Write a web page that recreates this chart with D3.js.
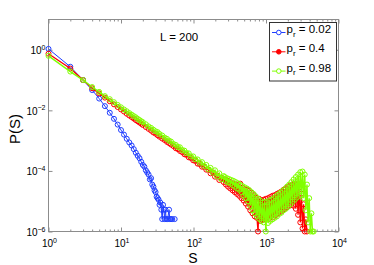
<!DOCTYPE html>
<html>
<head>
<meta charset="utf-8">
<script src="https://cdn.jsdelivr.net/npm/d3@7"></script>
<style>
  body { margin: 0; background: #fff; }
  svg { display: block; font-family: "Liberation Sans", Arial, sans-serif; }
</style>
</head>
<body>
<svg id="chart" width="374" height="265"></svg>
<script>
// cluster sizes S and probabilities P(S)
const sizesBlue = [1,2,3,4,5,6,7,8,9,10,11,12,13,14,15,16,17,18,19,20,21,22,23,24,25,26,27,28,29,30,
  31,32,33,34,35,36,37,38,39,40,41,42,44,46,47,49,51,55];
const probBlue = [1.07,0.275,0.1,4.68e-2,2.45e-2,1.38e-2,8.32e-3,5.25e-3,3.39e-3,2.24e-3,
  1.58e-3,1.15e-3,8.71e-4,6.92e-4,5.25e-4,3.98e-4,3.16e-4,2.63e-4,2.00e-4,1.58e-4,
  1.38e-4,1.05e-4,8.91e-5,7.59e-5,5.25e-5,5.75e-5,3.55e-5,3.02e-5,2.29e-5,2.00e-5,
  1.41e-5,1.26e-5,1.12e-5,7.59e-6,8.91e-6,5.25e-6,2.57e-6,7.59e-6,5.25e-6,2.57e-6,
  5.25e-6,2.57e-6,2.57e-6,5.25e-6,2.57e-6,2.57e-6,2.57e-6,2.57e-6];

// S grid shared by p_r = 0.4 and p_r = 0.98
const sizes = [1,2,3,4,5,6,7,8,9,10,11,12,13,14,15,16,17,18,19,20,
  22,24,26,28,30,32,34,37,40,43,46,49,53,57,61,65,70,75,80,86,92,99,106,114,122,131,140,150,161,172,185,198,212,227,243,261,
  270,280,290,300,311,322,334,346,358,371,384,398,412,427,442,458,474,491,509,527,546,566,586,607,629,651,675,699,724,750,
  777,805,834,864,895,927,960,995,1030,1067,1106,1145,1187,1229,1273,1319,1367,1416,1466,1519,1574,1630,1689,1750,1813,1878,
  1945,2015,2088,2163,2240,2321,2404,2491,2580,2673,2769,2869,2972,3079,3190,3305,3423,3546,3674,3806,3943,4085,4232,4384,4542];

const probRed = [0.741,0.240,0.100,5.37e-2,3.63e-2,2.63e-2,2.00e-2,1.58e-2,1.29e-2,1.07e-2,
  9.12e-3,7.76e-3,6.76e-3,6.03e-3,5.37e-3,4.79e-3,4.37e-3,3.98e-3,3.63e-3,3.31e-3,
  2.82e-3,2.45e-3,2.14e-3,1.86e-3,1.70e-3,1.51e-3,1.35e-3,1.17e-3,1.05e-3,9.12e-4,
  8.32e-4,7.41e-4,6.61e-4,5.62e-4,5.25e-4,4.57e-4,4.17e-4,3.55e-4,3.39e-4,2.82e-4,
  2.69e-4,2.24e-4,2.14e-4,1.74e-4,1.70e-4,1.38e-4,1.38e-4,1.10e-4,1.10e-4,8.32e-5,
  8.91e-5,6.46e-5,7.08e-5,5.01e-5,5.89e-5,4.27e-5,
  5.25e-5,3.55e-5,4.79e-5,3.02e-5,4.37e-5,2.63e-5,3.98e-5,2.29e-5,3.72e-5,2.00e-5,
  3.55e-5,1.74e-5,3.16e-5,1.51e-5,3.80e-5,1.26e-5,2.82e-5,1.05e-5,2.51e-5,8.32e-6,
  2.40e-5,6.61e-6,2.19e-5,5.01e-6,1.91e-5,3.98e-6,1.58e-5,3.16e-6,1.32e-5,2.82e-6,
  1.00e-6,1.20e-5,2.24e-6,1.05e-5,2.40e-6,1.12e-5,2.51e-6,1.20e-5,2.82e-6,1.26e-5,
  2.63e-6,1.38e-5,3.16e-6,1.51e-5,3.02e-6,1.58e-5,3.55e-6,1.74e-5,3.98e-6,1.91e-5,
  4.47e-6,2.09e-5,5.01e-6,2.40e-5,5.62e-6,2.63e-5,6.31e-6,3.02e-5,7.08e-6,3.31e-5,
  7.59e-6,3.63e-5,7.08e-6,3.80e-5,5.62e-6,3.55e-5,3.55e-6,2.82e-5,2.00e-6,1.78e-5,
  1.26e-6,7.94e-6,1.00e-6,2.51e-6,1.00e-6];

const probGreen = [0.631,0.191,0.1,5.89e-2,4.07e-2,2.95e-2,2.34e-2,1.86e-2,1.51e-2,1.26e-2,
  1.07e-2,9.33e-3,8.13e-3,7.24e-3,6.46e-3,5.89e-3,5.25e-3,4.79e-3,4.37e-3,4.07e-3,
  3.47e-3,2.95e-3,2.63e-3,2.29e-3,2.04e-3,1.91e-3,1.66e-3,1.48e-3,1.26e-3,1.15e-3,
  1.00e-3,9.33e-4,7.76e-4,7.24e-4,6.17e-4,6.03e-4,4.90e-4,4.68e-4,3.89e-4,3.80e-4,
  3.02e-4,3.02e-4,2.40e-4,2.40e-4,1.86e-4,1.95e-4,1.45e-4,1.58e-4,1.12e-4,1.26e-4,
  8.71e-5,1.05e-4,6.61e-5,8.32e-5,5.25e-5,6.76e-5,
  6.31e-5,4.68e-5,5.75e-5,4.17e-5,5.37e-5,3.80e-5,5.01e-5,3.39e-5,4.68e-5,3.02e-5,
  4.27e-5,2.63e-5,3.89e-5,2.40e-5,3.47e-5,2.00e-5,3.16e-5,1.51e-5,2.88e-5,1.26e-5,
  2.63e-5,1.00e-5,2.34e-5,7.08e-6,2.00e-5,5.01e-6,1.74e-5,3.98e-6,1.45e-5,3.16e-6,
  1.20e-5,2.63e-6,1.05e-5,2.24e-6,8.91e-6,2.00e-6,9.55e-6,1.00e-6,9.12e-6,1.91e-6,
  1.05e-5,2.24e-6,1.12e-5,2.51e-6,1.26e-5,2.82e-6,1.45e-5,3.16e-6,1.66e-5,3.80e-6,
  1.91e-5,4.17e-6,2.19e-5,5.01e-6,2.51e-5,5.62e-6,3.02e-5,6.61e-6,3.55e-5,7.94e-6,
  4.27e-5,9.55e-6,5.25e-5,1.12e-5,6.31e-5,1.32e-5,7.59e-5,1.51e-5,9.12e-5,1.58e-5,
  9.55e-5,1.26e-5,7.59e-5,5.01e-6,3.55e-5,2.00e-6,1.26e-5,1.00e-6,3.98e-6,1.00e-6,
  1.00e-6];

const legendLabels = ["0.02", "0.4", "0.98"];
const xTickExp = [0, 1, 2, 3, 4];
const yTickExp = [-6, -4, -2, 0];

const svg = d3.select("#chart");
const margin = { top: 19.5, left: 48.5 };
const width = 290;
const height = 212;
const axisColor = "#8c8c8c";

const x = d3.scaleLog().domain([1, 1e4]).range([0, width]);
const y = d3.scaleLog().domain([1e-6, 10]).range([height, 0]);

const g = svg.append("g")
  .attr("transform", `translate(${margin.left},${margin.top})`);

// ticks pointing inward on all four sides, matlab style
const xMajor = xTickExp.map(e => 10 ** e);
const xMinor = x.ticks().filter(v => !xMajor.includes(v));
const yMajor = yTickExp.map(e => 10 ** e);

function tickAxis(axis, transform) {
  const a = g.append("g").attr("transform", transform).call(axis);
  a.select(".domain").remove();
  a.selectAll("text").remove();
  a.selectAll("line").attr("stroke", axisColor);
}
tickAxis(d3.axisBottom(x).tickValues(xMajor).tickSize(-4), `translate(0,${height})`);
tickAxis(d3.axisBottom(x).tickValues(xMinor).tickSize(-2), `translate(0,${height})`);
tickAxis(d3.axisTop(x).tickValues(xMajor).tickSize(-4), "translate(0,0)");
tickAxis(d3.axisTop(x).tickValues(xMinor).tickSize(-2), "translate(0,0)");
tickAxis(d3.axisLeft(y).tickValues(yMajor).tickSize(-4), "translate(0,0)");
tickAxis(d3.axisRight(y).tickValues(yMajor).tickSize(-4), `translate(${width},0)`);

g.append("rect")
  .attr("width", width)
  .attr("height", height)
  .attr("fill", "none")
  .attr("stroke", axisColor);

// tick labels 10^k
xTickExp.forEach(e => {
  const t = g.append("text")
    .attr("x", x(10 ** e) + 1)
    .attr("y", height + 15.5)
    .attr("text-anchor", "middle")
    .attr("font-size", "10px");
  t.append("tspan").text("10");
  t.append("tspan").attr("dy", -4.5).attr("font-size", "7px").text(e);
});
yTickExp.forEach(e => {
  const t = g.append("text")
    .attr("x", -3)
    .attr("y", y(10 ** e) + 4.5)
    .attr("text-anchor", "end")
    .attr("font-size", "10px");
  t.append("tspan").text("10");
  t.append("tspan").attr("dy", -4.5).attr("font-size", "7px").text(e < 0 ? "\u2212" + (-e) : e);
});

svg.append("text")
  .attr("x", 193)
  .attr("y", 263)
  .attr("text-anchor", "middle")
  .attr("font-size", "14px")
  .text("S");

svg.append("text")
  .attr("transform", "translate(20,129) rotate(-90)")
  .attr("text-anchor", "middle")
  .attr("font-size", "15px")
  .text("P(S)");

svg.append("text")
  .attr("x", 160)
  .attr("y", 40.7)
  .attr("font-size", "11.5px")
  .text("L = 200");

const series = [
  { S: sizesBlue, P: probBlue, color: "#1f3dff", fill: "none", lw: 1 },
  { S: sizes, P: probRed, color: "#ff0000", fill: "#ff0000", lw: 1.3 },
  { S: sizes, P: probGreen, color: "#80ff00", fill: "none", lw: 1.4 }
];

const line = d3.line()
  .x(d => x(d.s))
  .y(d => y(d.p));

series.forEach(ser => {
  const pts = ser.P.map((p, i) => ({ s: ser.S[i], p: p }));
  g.append("path")
    .datum(pts)
    .attr("fill", "none")
    .attr("stroke", ser.color)
    .attr("stroke-width", ser.lw)
    .attr("d", line);
  g.append("g")
    .selectAll("circle")
    .data(pts)
    .enter()
    .append("circle")
    .attr("cx", d => x(d.s))
    .attr("cy", d => y(d.p))
    .attr("r", 2.5)
    .attr("fill", "none")
    .attr("stroke", ser.color)
    .attr("stroke-width", 1);
});

// legend
const legend = svg.append("g").attr("transform", "translate(269.5,22.5)");
legend.append("rect")
  .attr("width", 67)
  .attr("height", 58.5)
  .attr("fill", "#fff")
  .attr("stroke", "#333")
  .attr("stroke-width", 1);

const rowY = [10, 29.3, 48.6];
series.forEach((ser, i) => {
  const row = legend.append("g").attr("transform", `translate(0,${rowY[i]})`);
  row.append("line")
    .attr("x1", 2.5).attr("x2", 16)
    .attr("stroke", ser.color);
  row.append("circle")
    .attr("cx", 9.3)
    .attr("r", 2.3)
    .attr("fill", ser.fill === "none" ? "#fff" : ser.fill)
    .attr("stroke", ser.color);
  const t = row.append("text")
    .attr("x", 17)
    .attr("y", 0.5)
    .attr("font-size", "11.5px");
  t.append("tspan").text("p");
  t.append("tspan").attr("dy", 3.5).attr("font-size", "8px").text("r");
  t.append("tspan").attr("dy", -3.5).text(" = " + legendLabels[i]);
});
</script>
</body>
</html>
